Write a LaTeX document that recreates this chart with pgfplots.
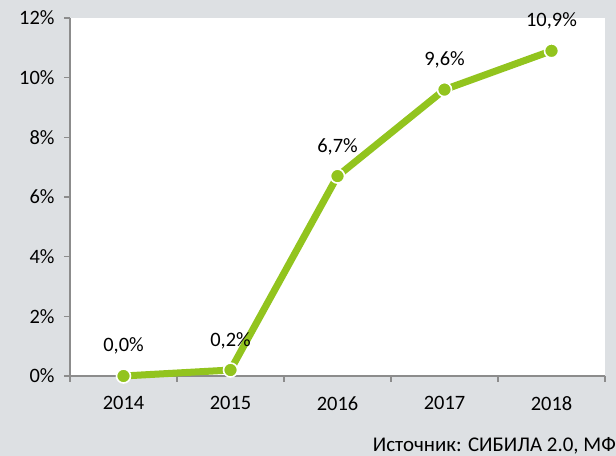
\documentclass[border=0pt]{standalone}
\usepackage{pgfplots}
\pgfplotsset{compat=1.18}
\usepackage{fontspec}
\setmainfont{Carlito}
\definecolor{bg}{RGB}{221,224,227}
\definecolor{grn}{RGB}{146,196,30}
\definecolor{axc}{RGB}{140,140,140}
\begin{document}
\begin{tikzpicture}[x=1bp,y=1bp]
\clip (0,0) rectangle (616,456);
\fill[bg] (0,0) rectangle (616,456);
\begin{axis}[
  at={(70bp,80bp)}, anchor=south west,
  scale only axis, width=535bp, height=358bp,
  xmin=-0.5, xmax=4.5, ymin=0, ymax=12,
  clip=false,
  axis x line=bottom, axis y line=left,
  axis line style={-, draw=axc, line width=1.5bp},
  axis background/.style={fill=white},
  tick align=outside,
  xtick={0,1,2,3,4},
  xticklabels={2014,2015,2016,2017,2018},
  major x tick style={draw=none},
  minor xtick={-0.5,0.5,1.5,2.5,3.5,4.5},
  minor tick length=6bp,
  minor x tick style={draw=axc, line width=1.5bp},
  ytick={0,2,4,6,8,10,12},
  yticklabel={\pgfmathprintnumber{\tick}\%},
  major tick length=6bp,
  major y tick style={draw=axc, line width=1.5bp},
  /pgf/number format/assume math mode=true,
  ticklabel style={font=\fontsize{20.5}{24}\selectfont, text=black},
  xticklabel style={yshift=-11bp},
  yticklabel style={xshift=-6bp},
  nodes near coords={\pgfmathprintnumber[fixed,fixed zerofill,precision=1,use comma,assume math mode=true]{\pgfplotspointmeta}\%},
  nodes near coords style={font=\fontsize{20.5}{24}\selectfont, anchor=base, yshift=24bp, text=black},
]
\addplot[color=grn, line width=7bp, mark=*, mark size=7bp,
  mark options={fill=grn, draw=white, line width=1.6bp}, point meta=y]
  coordinates {(0,0.0) (1,0.2) (2,6.7) (3,9.6) (4,10.9)};
\end{axis}
\node[anchor=base east, font=\fontsize{21}{25}\selectfont, inner sep=0] at (616,4) {Источник: СИБИЛА 2.0, МФ};
\end{tikzpicture}
\end{document}
